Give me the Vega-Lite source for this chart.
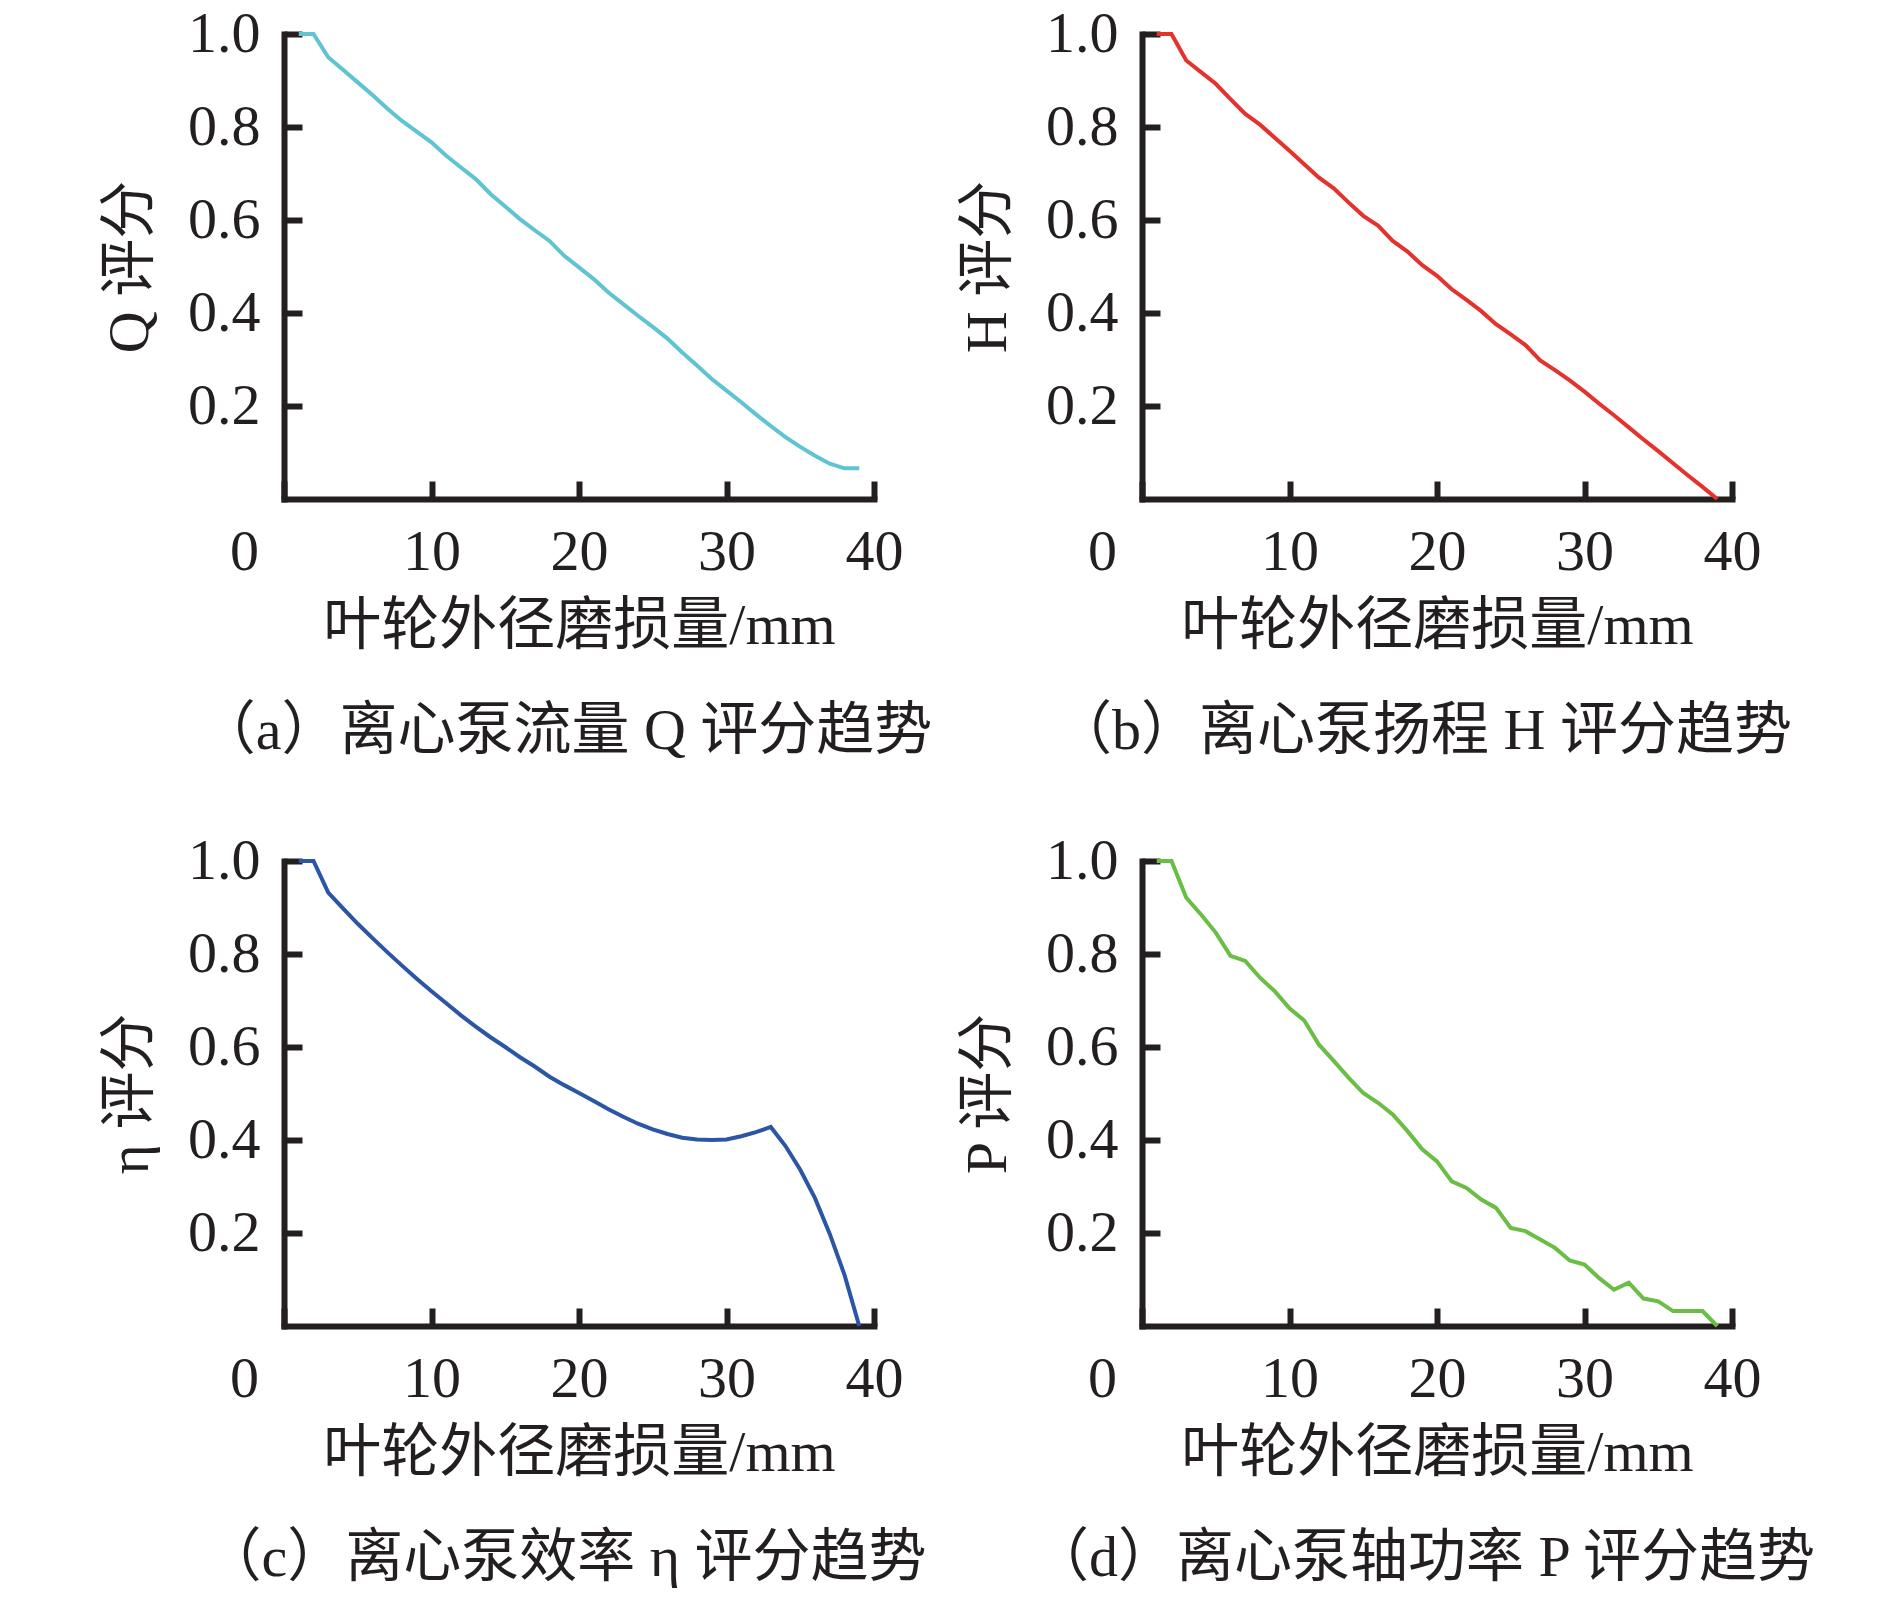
{
  "$schema": "https://vega.github.io/schema/vega-lite/v6.json",
  "description": "叶轮外径磨损量与离心泵各性能评分趋势",
  "background": "white",
  "padding": {"left": 101, "top": 5, "right": 0, "bottom": 0},
  "data": {
    "values": [
      {"wear": 1, "Q": 1.0, "H": 1.0, "eta": 1.0, "P": 1.0},
      {"wear": 2, "Q": 1.0, "H": 1.0, "eta": 1.0, "P": 1.0},
      {"wear": 3, "Q": 0.950, "H": 0.943, "eta": 0.932, "P": 0.921},
      {"wear": 4, "Q": 0.923, "H": 0.918, "eta": 0.898, "P": 0.885},
      {"wear": 5, "Q": 0.896, "H": 0.893, "eta": 0.865, "P": 0.846},
      {"wear": 6, "Q": 0.869, "H": 0.860, "eta": 0.834, "P": 0.796},
      {"wear": 7, "Q": 0.840, "H": 0.828, "eta": 0.804, "P": 0.785},
      {"wear": 8, "Q": 0.813, "H": 0.805, "eta": 0.775, "P": 0.749},
      {"wear": 9, "Q": 0.790, "H": 0.777, "eta": 0.747, "P": 0.720},
      {"wear": 10, "Q": 0.767, "H": 0.749, "eta": 0.720, "P": 0.683},
      {"wear": 11, "Q": 0.738, "H": 0.720, "eta": 0.694, "P": 0.657},
      {"wear": 12, "Q": 0.713, "H": 0.691, "eta": 0.668, "P": 0.605},
      {"wear": 13, "Q": 0.688, "H": 0.668, "eta": 0.644, "P": 0.570},
      {"wear": 14, "Q": 0.656, "H": 0.638, "eta": 0.621, "P": 0.534},
      {"wear": 15, "Q": 0.629, "H": 0.609, "eta": 0.600, "P": 0.501},
      {"wear": 16, "Q": 0.602, "H": 0.588, "eta": 0.578, "P": 0.480},
      {"wear": 17, "Q": 0.578, "H": 0.555, "eta": 0.558, "P": 0.455},
      {"wear": 18, "Q": 0.555, "H": 0.532, "eta": 0.536, "P": 0.419},
      {"wear": 19, "Q": 0.523, "H": 0.503, "eta": 0.518, "P": 0.380},
      {"wear": 20, "Q": 0.498, "H": 0.480, "eta": 0.501, "P": 0.354},
      {"wear": 21, "Q": 0.473, "H": 0.451, "eta": 0.484, "P": 0.311},
      {"wear": 22, "Q": 0.444, "H": 0.428, "eta": 0.466, "P": 0.297},
      {"wear": 23, "Q": 0.419, "H": 0.404, "eta": 0.450, "P": 0.272},
      {"wear": 24, "Q": 0.394, "H": 0.376, "eta": 0.435, "P": 0.254},
      {"wear": 25, "Q": 0.370, "H": 0.354, "eta": 0.423, "P": 0.211},
      {"wear": 26, "Q": 0.345, "H": 0.331, "eta": 0.413, "P": 0.204},
      {"wear": 27, "Q": 0.315, "H": 0.298, "eta": 0.405, "P": 0.186},
      {"wear": 28, "Q": 0.287, "H": 0.277, "eta": 0.401, "P": 0.168},
      {"wear": 29, "Q": 0.258, "H": 0.255, "eta": 0.400, "P": 0.141},
      {"wear": 30, "Q": 0.233, "H": 0.231, "eta": 0.401, "P": 0.132},
      {"wear": 31, "Q": 0.208, "H": 0.205, "eta": 0.408, "P": 0.103},
      {"wear": 32, "Q": 0.182, "H": 0.180, "eta": 0.417, "P": 0.078},
      {"wear": 33, "Q": 0.157, "H": 0.154, "eta": 0.428, "P": 0.093},
      {"wear": 34, "Q": 0.133, "H": 0.128, "eta": 0.387, "P": 0.059},
      {"wear": 35, "Q": 0.112, "H": 0.103, "eta": 0.336, "P": 0.053},
      {"wear": 36, "Q": 0.093, "H": 0.077, "eta": 0.275, "P": 0.032},
      {"wear": 37, "Q": 0.076, "H": 0.051, "eta": 0.198, "P": 0.032},
      {"wear": 38, "Q": 0.066, "H": 0.026, "eta": 0.110, "P": 0.032},
      {"wear": 39, "Q": 0.066, "H": 0.0, "eta": 0.0, "P": 0.0}
    ]
  },
  "columns": 2,
  "bounds": "flush",
  "spacing": {"row": 362, "column": 268},
  "concat": [
    {
      "width": 590,
      "height": 465,
      "title": "（a）离心泵流量 Q 评分趋势",
      "mark": {"type": "line", "color": "#5FC4D1", "strokeWidth": 4},
      "encoding": {
        "x": {
          "field": "wear", "type": "quantitative", "scale": {"domain": [0, 40]},
          "axis": {"title": "叶轮外径磨损量/mm", "values": [0, 10, 20, 30, 40],
            "labelOffset": {"condition": {"test": "datum.value === 0", "value": -40}, "value": 0}}
        },
        "y": {
          "field": "Q", "type": "quantitative", "scale": {"domain": [0, 1]},
          "axis": {"title": "Q 评分", "values": [0.2, 0.4, 0.6, 0.8, 1.0], "format": ".1f"}
        }
      }
    },
    {
      "width": 590,
      "height": 465,
      "title": "（b）离心泵扬程 H 评分趋势",
      "mark": {"type": "line", "color": "#E5322D", "strokeWidth": 4},
      "encoding": {
        "x": {
          "field": "wear", "type": "quantitative", "scale": {"domain": [0, 40]},
          "axis": {"title": "叶轮外径磨损量/mm", "values": [0, 10, 20, 30, 40],
            "labelOffset": {"condition": {"test": "datum.value === 0", "value": -40}, "value": 0}}
        },
        "y": {
          "field": "H", "type": "quantitative", "scale": {"domain": [0, 1]},
          "axis": {"title": "H 评分", "values": [0.2, 0.4, 0.6, 0.8, 1.0], "format": ".1f"}
        }
      }
    },
    {
      "width": 590,
      "height": 465,
      "title": "（c）离心泵效率 η 评分趋势",
      "mark": {"type": "line", "color": "#2B55A5", "strokeWidth": 4},
      "encoding": {
        "x": {
          "field": "wear", "type": "quantitative", "scale": {"domain": [0, 40]},
          "axis": {"title": "叶轮外径磨损量/mm", "values": [0, 10, 20, 30, 40],
            "labelOffset": {"condition": {"test": "datum.value === 0", "value": -40}, "value": 0}}
        },
        "y": {
          "field": "eta", "type": "quantitative", "scale": {"domain": [0, 1]},
          "axis": {"title": "η 评分", "values": [0.2, 0.4, 0.6, 0.8, 1.0], "format": ".1f"}
        }
      }
    },
    {
      "width": 590,
      "height": 465,
      "title": "（d）离心泵轴功率 P 评分趋势",
      "mark": {"type": "line", "color": "#6ABD45", "strokeWidth": 4},
      "encoding": {
        "x": {
          "field": "wear", "type": "quantitative", "scale": {"domain": [0, 40]},
          "axis": {"title": "叶轮外径磨损量/mm", "values": [0, 10, 20, 30, 40],
            "labelOffset": {"condition": {"test": "datum.value === 0", "value": -40}, "value": 0}}
        },
        "y": {
          "field": "P", "type": "quantitative", "scale": {"domain": [0, 1]},
          "axis": {"title": "P 评分", "values": [0.2, 0.4, 0.6, 0.8, 1.0], "format": ".1f"}
        }
      }
    }
  ],
  "config": {
    "view": {"stroke": null},
    "font": "Liberation Serif, Noto Sans CJK SC",
    "axis": {
      "grid": false,
      "domainColor": "#231f20",
      "domainWidth": 6,
      "domainCap": "square",
      "tickColor": "#231f20",
      "tickWidth": 6,
      "tickSize": -18,
      "labelFont": "Liberation Serif",
      "labelFontSize": 58,
      "labelColor": "#231f20",
      "labelFlush": false,
      "labelOverlap": false,
      "titleFont": "Liberation Serif, Noto Sans CJK SC",
      "titleFontSize": 58,
      "titleFontWeight": "normal",
      "titleColor": "#231f20"
    },
    "axisX": {"labelPadding": 42, "titlePadding": 16},
    "axisY": {"labelPadding": 42, "titlePadding": 28},
    "title": {
      "font": "Liberation Serif, Noto Sans CJK SC",
      "fontSize": 58,
      "fontWeight": "normal",
      "color": "#231f20",
      "orient": "bottom",
      "frame": "group",
      "anchor": "middle",
      "offset": 48,
      "dx": -14
    }
  }
}
